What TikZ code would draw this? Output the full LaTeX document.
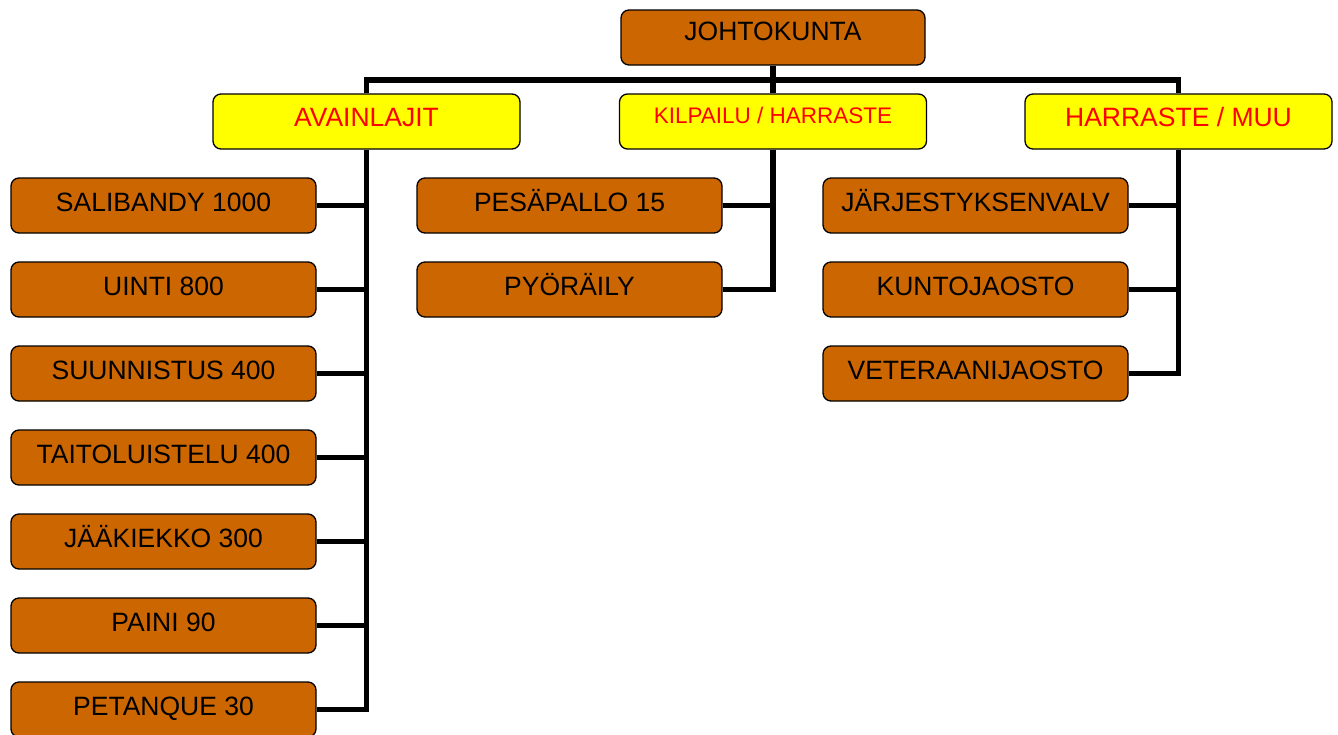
\documentclass[tikz,border=0pt]{standalone}
\usepackage{fontspec}
\setmainfont{Liberation Sans}
\usetikzlibrary{backgrounds}
\definecolor{boxbrown}{HTML}{CC6600}
\definecolor{boxyellow}{HTML}{FFFF00}
\definecolor{txtred}{HTML}{FF0000}
\tikzset{
  basebox/.style={draw=black, line width=1.3pt, rounded corners=8pt, inner sep=2pt,
    minimum width=305pt, minimum height=55pt, text height=19pt, text depth=8pt,
    font=\fontsize{26.5}{30}\selectfont},
  brownbox/.style={basebox, fill=boxbrown, text=black},
  yellowbox/.style={basebox, fill=boxyellow, text=txtred, minimum width=307pt},
  conn/.style={line width=5.5pt, draw=black, line join=miter}
}
\begin{document}
\begin{tikzpicture}[x=1pt,y=-1pt]
\useasboundingbox (0,0) rectangle (1338,734);
% top
\node[brownbox, minimum width=304pt, text depth=13pt] (top) at (773,37.5) {JOHTOKUNTA};
% group heads
\node[yellowbox, text depth=10pt] (avain) at (366.5,121.5) {AVAINLAJIT};
\node[yellowbox, text depth=13pt, text height=16.1pt, font=\fontsize{22.5}{26}\selectfont] (kil) at (773,121.5) {KILPAILU / HARRASTE};
\node[yellowbox, text depth=10pt] (harr) at (1178.5,121.5) {HARRASTE / MUU};
% left column
\node[brownbox] (sali) at (163.5,205.5) {SALIBANDY 1000};
\node[brownbox] (uinti) at (163.5,289.5) {UINTI 800};
\node[brownbox] (suunn) at (163.5,373.5) {SUUNNISTUS 400};
\node[brownbox] (taito) at (163.5,457.5) {TAITOLUISTELU 400};
\node[brownbox] (jaak) at (163.5,541.5) {JÄÄKIEKKO 300};
\node[brownbox] (paini) at (163.5,625.5) {PAINI 90};
\node[brownbox] (petanque) at (163.5,709.5) {PETANQUE 30};
% middle column
\node[brownbox] (pesa) at (569.5,205.5) {PESÄPALLO 15};
\node[brownbox] (pyora) at (569.5,289.5) {PYÖRÄILY};
% right column
\node[brownbox] (jarj) at (975.5,205.5) {JÄRJESTYKSENVALV};
\node[brownbox] (kunto) at (975.5,289.5) {KUNTOJAOSTO};
\node[brownbox] (vete) at (975.5,373.5) {VETERAANIJAOSTO};
\coordinate (bar) at (773,80);
\begin{scope}[on background layer]
\draw[conn] (top.south) -- (kil.north);
\draw[conn] (avain.north) |- (bar) -| (harr.north);
\draw[conn] (avain.south) |- (petanque.east);
\foreach \n in {sali,uinti,suunn,taito,jaak,paini}
  \draw[conn] (\n.east) -- (\n.east -| avain.south);
\draw[conn] (kil.south) |- (pyora.east);
\draw[conn] (pesa.east) -- (pesa.east -| kil.south);
\draw[conn] (harr.south) |- (vete.east);
\foreach \n in {jarj,kunto}
  \draw[conn] (\n.east) -- (\n.east -| harr.south);
\end{scope}
\end{tikzpicture}
\end{document}
